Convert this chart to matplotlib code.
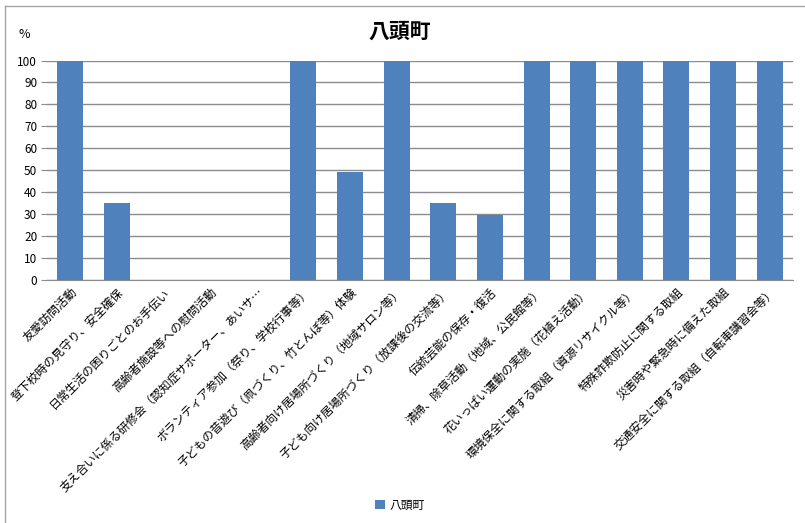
import matplotlib.pyplot as plt
from matplotlib.lines import Line2D
import numpy as np

plt.rcParams['font.family'] = ['Noto Sans CJK JP', 'DejaVu Sans']

categories = [
    "友愛訪問活動",
    "登下校時の見守り、安全確保",
    "日常生活の困りごとのお手伝い",
    "高齢者施設等への慰問活動",
    "支え合いに係る研修会（認知症サポーター、あいサ…",
    "ボランティア参加（祭り、学校行事等）",
    "子どもの昔遊び（凧づくり、竹とんぼ等）体験",
    "高齢者向け居場所づくり（地域サロン等）",
    "子ども向け居場所づくり（放課後の交流等）",
    "伝統芸能の保存・復活",
    "清掃、除草活動（地域、公民館等）",
    "花いっぱい運動の実施（花植え活動）",
    "環境保全に関する取組（資源リサイクル等）",
    "特殊詐欺防止に関する取組",
    "災害時や緊急時に備えた取組",
    "交通安全に関する取組（自転車講習会等）",
]
values = [100, 35, 0, 0, 0, 100, 49, 100, 35, 29.5, 100, 100, 100, 100, 100, 100]
series_name = "八頭町"
yticks = list(range(0, 101, 10))

W, H = 805, 523
fig = plt.figure(figsize=(W / 100, H / 100), dpi=100)
ax = fig.add_axes([47 / W, 1 - 280 / H, (793 - 47) / W, (280 - 60.5) / H])

x = np.arange(len(categories))
ax.bar(x, values, width=0.56, color="#4F81BD", label=series_name, zorder=3)

ax.set_xlim(-0.5, len(categories) - 0.5)
ax.set_ylim(0, 100)
ax.set_yticks(yticks)
ax.yaxis.grid(True, color="#8C8C8C", linewidth=1, zorder=0)
ax.tick_params(axis="y", length=4, color="#8C8C8C", labelsize=8.5, pad=3)
ax.tick_params(axis="x", length=0, pad=4)
ax.set_xticks(x)
ax.set_xticklabels(categories, rotation=45, ha="right", rotation_mode="anchor", fontsize=8.5)
for s in ["left", "right", "top"]:
    ax.spines[s].set_visible(False)
ax.spines["bottom"].set_color("#8C8C8C")

fig.text(400 / W, 1 - 31 / H, "八頭町", ha="center", va="center", fontsize=15, fontweight="bold")
fig.text(24 / W, 1 - 35 / H, "%", ha="center", va="center", fontsize=9)

fig.legend(loc="center", bbox_to_anchor=(400 / W, 1 - 505 / H), frameon=False,
           fontsize=8.5, handlelength=0.8, handleheight=0.8, handletextpad=0.4)

# chart frame
fig.add_artist(Line2D([5 / W, 5 / W], [0, 1 - 6 / H], transform=fig.transFigure, color="#A6A6A6", lw=1))
fig.add_artist(Line2D([5 / W, 1], [1 - 6 / H, 1 - 6 / H], transform=fig.transFigure, color="#A6A6A6", lw=1))

fig.savefig("out.png", dpi=100)
